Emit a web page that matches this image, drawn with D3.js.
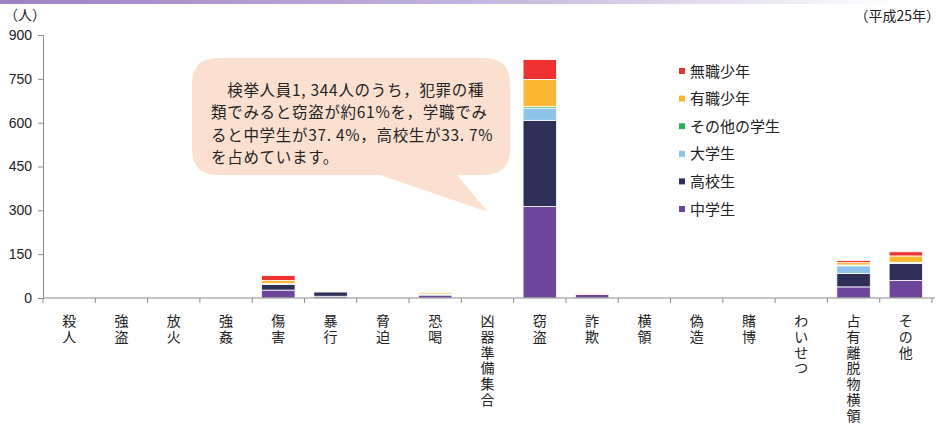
<!DOCTYPE html>
<html>
<head>
<meta charset="utf-8">
<script src="https://cdn.jsdelivr.net/npm/d3@7"></script>
<style>
  body { margin: 0; background: #fff; }
  svg { display: block; }
</style>
</head>
<body>
<div id="chart"></div>
<script>
/* DATA */
var categories = ["殺人", "強盗", "放火", "強姦", "傷害", "暴行", "脅迫", "恐喝", "凶器準備集合",
                  "窃盗", "詐欺", "横領", "偽造", "賭博", "わいせつ", "占有離脱物横領", "その他"];

// stack order bottom -> top
var seriesNames = ["中学生", "高校生", "大学生", "その他の学生", "有職少年", "無職少年"];
var chugakusei   = [0, 0, 0, 0, 27, 6, 0, 10, 0, 313, 12, 0, 0, 0, 0, 38, 60];
var koukousei    = [0, 0, 0, 0, 19, 15, 0, 3, 0, 295, 1, 0, 0, 0, 0, 46, 58];
var daigakusei   = [0, 0, 0, 0, 3, 1, 0, 1, 0, 42, 0, 0, 0, 0, 0, 26, 3];
var sonotaGakusei= [0, 0, 0, 0, 1, 1, 0, 0, 0, 5, 0, 0, 0, 0, 0, 3, 1];
var yushoku      = [0, 0, 0, 0, 10, 1, 0, 5, 0, 93, 0, 0, 0, 0, 0, 8, 22];
var mushoku      = [0, 0, 0, 0, 17, 2, 0, 0, 0, 68, 1, 0, 0, 0, 0, 7, 14];
var yTicks = [0, 150, 300, 450, 600, 750, 900];

var colors = ["#6d469b", "#2e2f57", "#8ec4ea", "#2bb25c", "#fbb732", "#ee3131"];

var bubbleLines = ["\u3000検挙人員1, 344人のうち，犯罪の種",
                   "類でみると窃盗が約61%を，学職でみ",
                   "ると中学生が37. 4%，高校生が33. 7%",
                   "を占めています。"];

/* LAYOUT */
var W = 945, H = 424;
var margin = {top: 35, left: 43, right: 13, bottom: 126};
var width = W - margin.left - margin.right,
    height = H - margin.top - margin.bottom;

var svg = d3.select("#chart").append("svg")
  .attr("width", W)
  .attr("height", H)
  .style("font-family", "'Liberation Sans', Arial, sans-serif");

// top gradient strip
var defs = svg.append("defs");
var grad = defs.append("linearGradient").attr("id", "topgrad");
grad.append("stop").attr("offset", "0%").attr("stop-color", "#9c82c3");
grad.append("stop").attr("offset", "55%").attr("stop-color", "#c9b9df");
grad.append("stop").attr("offset", "95%").attr("stop-color", "#ffffff");
svg.append("rect").attr("x", 0).attr("y", 0).attr("width", W).attr("height", 4)
  .attr("fill", "url(#topgrad)");

var g = svg.append("g")
  .attr("transform", "translate(" + margin.left + "," + margin.top + ")");

// scales
var x = d3.scaleBand()
  .domain(categories)
  .range([0, width])
  .paddingInner(0.36)
  .paddingOuter(0.18);

var y = d3.scaleLinear()
  .domain([0, 900])
  .range([height, 0]);

// stacked data
var rows = categories.map(function(c, i) {
  return {cat: c, "中学生": chugakusei[i], "高校生": koukousei[i], "大学生": daigakusei[i],
          "その他の学生": sonotaGakusei[i], "有職少年": yushoku[i], "無職少年": mushoku[i]};
});
var stacked = d3.stack().keys(seriesNames)(rows);

g.selectAll(".layer")
  .data(stacked)
  .enter().append("g")
  .attr("class", "layer")
  .attr("fill", function(d, i) { return colors[i]; })
  .selectAll("rect")
  .data(function(d) { return d.filter(function(p) { return p[1] - p[0] > 0; }); })
  .enter().append("rect")
  .attr("x", function(d) { return x(d.data.cat); })
  .attr("y", function(d) { return y(d[1]); })
  .attr("width", x.bandwidth())
  .attr("height", function(d) { return y(d[0]) - y(d[1]); })
  .attr("stroke", "#fff")
  .attr("stroke-width", 0.8);

// y axis
var yAxis = g.append("g")
  .call(d3.axisLeft(y).tickValues(yTicks).tickSize(5).tickPadding(6));
yAxis.selectAll("path, line").attr("stroke", "#8a8a8a");
yAxis.selectAll("text").attr("font-size", 14).attr("fill", "#222")
  .style("font-family", "'Liberation Sans', Arial, sans-serif");

// x axis line + ticks at band boundaries
g.append("line")
  .attr("x1", 0).attr("x2", width + 3)
  .attr("y1", height).attr("y2", height)
  .attr("stroke", "#8a8a8a");
g.selectAll(".xtick")
  .data(d3.range(categories.length + 1))
  .enter().append("line")
  .attr("class", "xtick")
  .attr("x1", function(i) { return x.range()[0] + i * x.step(); })
  .attr("x2", function(i) { return x.range()[0] + i * x.step(); })
  .attr("y1", height).attr("y2", height + 5)
  .attr("stroke", "#8a8a8a");

// vertical category labels, one character per line
var xl = g.selectAll(".xlabel")
  .data(categories)
  .enter().append("text")
  .attr("class", "xlabel")
  .attr("font-size", 14)
  .attr("fill", "#222")
  .attr("text-anchor", "middle")
  .style("font-family", "'Noto Sans CJK JP', sans-serif");
xl.each(function(d) {
  var t = d3.select(this);
  var cx = x(d) + x.bandwidth() / 2;
  d.split("").forEach(function(ch, k) {
    t.append("tspan")
      .attr("x", cx)
      .attr("y", height + 28 + k * 15.8)
      .text(ch);
  });
});

// unit labels
svg.append("text").attr("x", 4).attr("y", 20)
  .attr("font-size", 14).attr("fill", "#222")
  .style("font-family", "'Noto Sans CJK JP', sans-serif")
  .text("（人）");
svg.append("text").attr("x", 940).attr("y", 21)
  .attr("font-size", 14).attr("fill", "#222").attr("text-anchor", "end")
  .style("font-family", "'Noto Sans CJK JP', sans-serif")
  .text("（平成25年）");

// legend (top item = 無職少年)
var legendOrder = seriesNames.slice().reverse();
var legend = svg.append("g").attr("transform", "translate(679,71)");
legendOrder.forEach(function(name, i) {
  var row = legend.append("g").attr("transform", "translate(0," + (i * 27.6) + ")");
  row.append("rect").attr("x", 0).attr("y", -3).attr("width", 6).attr("height", 6)
    .attr("fill", colors[seriesNames.indexOf(name)]);
  row.append("text").attr("x", 11).attr("y", 5.5)
    .attr("font-size", 15).attr("fill", "#222")
    .style("font-family", "'Noto Sans CJK JP', sans-serif")
    .text(name);
});

// speech bubble
var bx = 192, by = 58, bw = 318, bh = 117, r = 26;
var bubblePath = "M" + (bx + r) + "," + by +
  " H" + (bx + bw - r) +
  " Q" + (bx + bw) + "," + by + " " + (bx + bw) + "," + (by + r) +
  " V" + (by + bh - r) +
  " Q" + (bx + bw) + "," + (by + bh) + " " + (bx + bw - r) + "," + (by + bh) +
  " H" + 457 +
  " L" + 488 + "," + 212 +
  " L" + 380 + "," + (by + bh) +
  " H" + (bx + r) +
  " Q" + bx + "," + (by + bh) + " " + bx + "," + (by + bh - r) +
  " V" + (by + r) +
  " Q" + bx + "," + by + " " + (bx + r) + "," + by + " Z";
svg.append("path").attr("d", bubblePath).attr("fill", "#fbe0d0");

var bt = svg.append("text")
  .attr("font-size", 15.5)
  .attr("fill", "#222")
  .attr("letter-spacing", 0.7)
  .style("font-family", "'Noto Sans CJK JP', sans-serif");
bubbleLines.forEach(function(line, i) {
  bt.append("tspan").attr("x", 211).attr("y", 96 + i * 22.3).text(line);
});
</script>
</body>
</html>
